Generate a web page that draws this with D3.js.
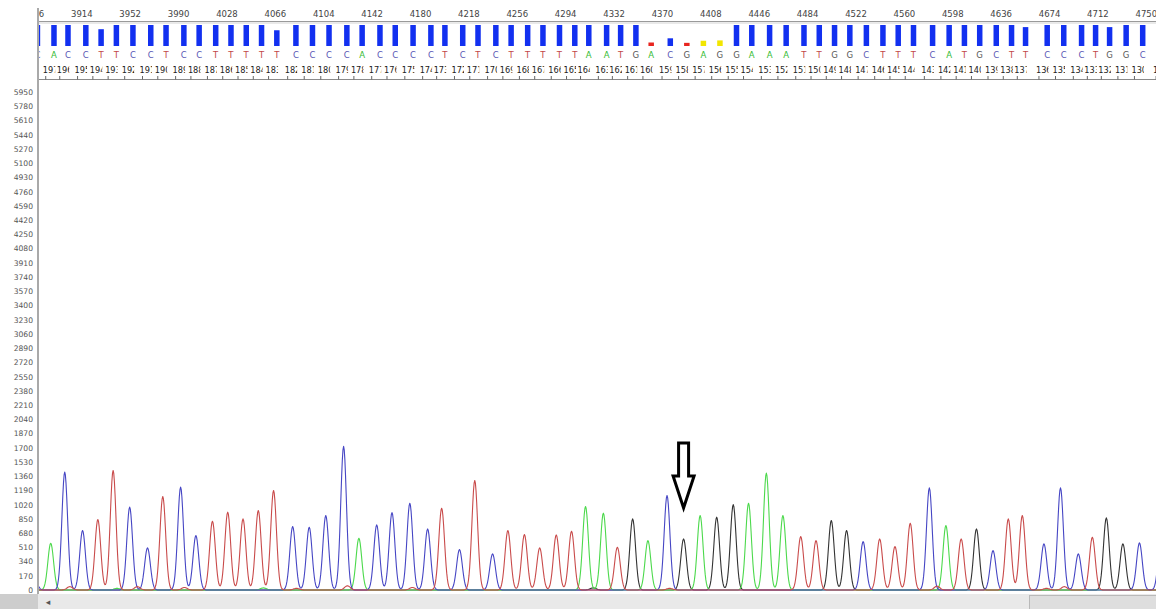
<!DOCTYPE html>
<html>
<head>
<meta charset="utf-8">
<script src="https://cdn.jsdelivr.net/npm/d3@7"></script>
<style>
  html, body { margin: 0; padding: 0; background: #fff; }
  svg { display: block; font-family: "DejaVu Sans", sans-serif; }
</style>
</head>
<body>
<svg id="trace" width="1156" height="609"></svg>
<script>
// base calls, scan position of each peak, peak height, quality, base number
var baseCalls = ["C",
  "A","C","C","T","T","C","C","T","C","C",
  "T","T","T","T","T","C","C","C","C","A",
  "C","C","C","C","T","C","T","C","T","T",
  "T","T","T","A","A","T","G","A","C","G",
  "A","G","G","A","A","A","T","T","G","G",
  "C","T","T","T","C","A","T","G","C","T",
  "T","C","C","C","T","G","G","C",
  "C"]
var peakPos = [3877,
  3890, 3901, 3915, 3927, 3939, 3952, 3966, 3978, 3992, 4004,
  4017, 4029, 4041, 4053, 4065, 4080, 4093, 4106, 4120, 4132,
  4146, 4158, 4172, 4186, 4197, 4211, 4223, 4237, 4249, 4262,
  4274, 4287, 4299, 4310, 4324, 4335, 4347, 4359, 4374, 4387,
  4400, 4413, 4426, 4438, 4452, 4465, 4479, 4491, 4503, 4515,
  4528, 4541, 4553, 4565, 4580, 4593, 4605, 4617, 4630, 4642,
  4653, 4670, 4683, 4697, 4708, 4719, 4732, 4745,
  4762]
var peakHeight = [150,
  559, 1409, 710, 842, 1428, 990, 503, 1117, 1229, 650,
  822, 930, 850, 950, 1189, 758, 750, 890, 1716, 618,
  778, 925, 1037, 730, 977, 483, 1309, 431, 710, 662,
  503, 658, 702, 998, 918, 511, 850, 590, 1129, 610,
  890, 870, 1021, 1037, 1397, 890, 638, 590, 830, 710,
  578, 610, 519, 798, 1221, 770, 610, 730, 471, 850,
  890, 551, 1221, 431, 630, 862, 551, 563,
  640]
var quality = [60,
  60, 60, 60, 48, 60, 60, 60, 60, 60, 60,
  60, 60, 60, 60, 45, 60, 60, 60, 60, 60,
  60, 60, 60, 60, 60, 60, 60, 60, 60, 60,
  60, 60, 60, 60, 60, 60, 60, 10, 22, 9,
  15, 16, 60, 60, 60, 60, 60, 60, 60, 60,
  60, 60, 60, 60, 60, 60, 60, 60, 60, 60,
  54, 60, 60, 60, 60, 54, 60, 60,
  60]
var baseNumbers = [198,
  197, 196, 195, 194, 193, 192, 191, 190, 189, 188,
  187, 186, 185, 184, 183, 182, 181, 180, 179, 178,
  177, 176, 175, 174, 173, 172, 171, 170, 169, 168,
  167, 166, 165, 164, 163, 162, 161, 160, 159, 158,
  157, 156, 155, 154, 153, 152, 151, 150, 149, 148,
  147, 146, 145, 144, 143, 142, 141, 140, 139, 138,
  137, 136, 135, 134, 133, 132, 131, 130,
  129]

// small secondary bumps near the baseline
var minorPos = [3905, 3942, 3958, 3995, 4057, 4083, 4123, 4174, 4316, 4376, 4586, 4672, 4686]
var minorBase = ["T", "A", "T", "T", "A", "T", "T", "T", "G", "T", "T", "T", "T"]
var minorHeight = [40, 20, 40, 30, 25, 20, 50, 30, 25, 20, 45, 20, 40]

var rulerTicks = [3876, 3914, 3952, 3990, 4028, 4066, 4104, 4142, 4180, 4218, 4256, 4294,
  4332, 4370, 4408, 4446, 4484, 4522, 4560, 4598, 4636, 4674, 4712, 4750]
var yTicks = [0, 170, 340, 510, 680, 850, 1020, 1190, 1360, 1530, 1700, 1870, 2040, 2210,
  2380, 2550, 2720, 2890, 3060, 3230, 3400, 3570, 3740, 3910, 4080, 4250, 4420, 4590,
  4760, 4930, 5100, 5270, 5440, 5610, 5780, 5950]

var traceColors = { A: "#4cd94c", C: "#4646c4", G: "#333333", T: "#c94b4b" }
var letterColors = { A: "#33bb33", C: "#5656b4", G: "#555555", T: "#c24848" }
var arrowBase = 40

var svg = d3.select("#trace")
var width = 1156, height = 609
var left = 38

var x = d3.scaleLinear().domain([3880, 4758]).range([left, width])
var y = d3.scaleLinear().domain([0, 5950]).range([590, 92])
var qh = d3.scaleLinear().domain([0, 60]).range([0, 21])

var defs = svg.append("defs")
defs.append("clipPath").attr("id", "clipTop")
  .append("rect").attr("x", left + 1).attr("y", 0).attr("width", width - left).attr("height", 80)
defs.append("clipPath").attr("id", "clipPlot")
  .append("rect").attr("x", left + 1).attr("y", 82).attr("width", width - left).attr("height", 511)

// ---- top panel: ruler, quality bars, base letters, base numbers
var panel = svg.append("g").attr("clip-path", "url(#clipTop)")

var ruler = panel.append("g").attr("transform", "translate(0,21)")
  .call(d3.axisTop(x).tickValues(rulerTicks).tickSize(0).tickPadding(4).tickFormat(d3.format("d")))
ruler.select(".domain").remove()
ruler.selectAll("text").attr("font-size", "8.5px").attr("fill", "#444").attr("font-family", "DejaVu Sans")

panel.append("line").attr("x1", left).attr("x2", width).attr("y1", 21.5).attr("y2", 21.5)
  .attr("stroke", "#9a9a9a")
panel.append("line").attr("x1", left).attr("x2", width).attr("y1", 23).attr("y2", 23)
  .attr("stroke", "#d4d4d4")

var idx = d3.range(baseCalls.length)

function qColor(q) {
  if (q < 12) return "#e8251f"
  if (q < 20) return "#f2e600"
  return "#1230f0"
}

panel.append("g").selectAll("rect")
  .data(idx)
  .enter()
  .append("rect")
  .attr("x", function(i) { return x(peakPos[i]) + 0.5 })
  .attr("width", 5.5)
  .attr("y", function(i) { return 46 - qh(quality[i]) })
  .attr("height", function(i) { return qh(quality[i]) })
  .attr("fill", function(i) { return qColor(quality[i]) })

panel.append("g").selectAll("text")
  .data(idx)
  .enter()
  .append("text")
  .attr("x", function(i) { return x(peakPos[i]) + 3.2 })
  .attr("y", 57.5)
  .attr("text-anchor", "middle")
  .attr("font-size", "8.5px")
  .attr("fill", function(i) { return letterColors[baseCalls[i]] })
  .text(function(i) { return baseCalls[i] })

// base numbers are cut to the width of two digits
var nums = panel.append("g").selectAll("svg")
  .data(idx)
  .enter()
  .append("svg")
  .attr("x", function(i) { return x(peakPos[i]) - 8 })
  .attr("y", 62)
  .attr("width", 12.5)
  .attr("height", 14)
nums.append("text")
  .attr("x", 0)
  .attr("y", 11)
  .attr("font-size", "8.2px")
  .attr("fill", "#222")
  .text(function(i) { return baseNumbers[i] })

panel.append("line").attr("x1", left).attr("x2", width).attr("y1", 79.5).attr("y2", 79.5)
  .attr("stroke", "#8a8a8a")
panel.append("g").selectAll("line")
  .data(idx)
  .enter()
  .append("line")
  .attr("x1", function(i) { return x(peakPos[i]) - 5 })
  .attr("x2", function(i) { return x(peakPos[i]) - 5 })
  .attr("y1", 76)
  .attr("y2", 79.5)
  .attr("stroke", "#666")

// ---- y axis
var yAxis = svg.append("g").attr("transform", "translate(" + left + ",0)")
  .call(d3.axisLeft(y).tickValues(yTicks).tickSize(0).tickPadding(5).tickFormat(d3.format("d")))
yAxis.select(".domain").remove()
yAxis.selectAll("text").attr("font-size", "7.6px").attr("fill", "#555").attr("font-family", "DejaVu Sans")

svg.append("line").attr("x1", left).attr("x2", left).attr("y1", 8).attr("y2", 594)
  .attr("stroke", "#8c8c8c").attr("stroke-width", 1.5)

// ---- traces
var sigma = 2.25
var scans = d3.range(3874, 4764, 0.5)
function channel(b) {
  var pk = []
  idx.forEach(function(i) {
    if (baseCalls[i] === b) pk.push([peakPos[i], peakHeight[i]])
  })
  minorPos.forEach(function(p, i) {
    if (minorBase[i] === b) pk.push([p, minorHeight[i]])
  })
  return scans.map(function(s) {
    var v = 0
    pk.forEach(function(p) {
      var d = s - p[0]
      v += p[1] * Math.exp(-d * d / (2 * sigma * sigma))
    })
    return [s, v]
  })
}

var line = d3.line()
  .x(function(d) { return x(d[0]) })
  .y(function(d) { return y(d[1]) })

var plot = svg.append("g").attr("clip-path", "url(#clipPlot)")
var order = ["G", "A", "C", "T"]
plot.selectAll("path")
  .data(order)
  .enter()
  .append("path")
  .attr("d", function(b) { return line(channel(b)) })
  .attr("fill", "none")
  .attr("stroke", function(b) { return traceColors[b] })
  .attr("stroke-width", 1.1)
  .attr("stroke-linejoin", "round")

// ---- arrow pointing at the questioned peak
var ax = x(peakPos[arrowBase]), ay = y(peakHeight[arrowBase]) - 31
svg.append("path")
  .attr("transform", "translate(" + ax + "," + ay + ")")
  .attr("d", "M-5,-65 L5,-65 L5,-32 L10.5,-32 L0,0 L-10.5,-32 L-5,-32 Z")
  .attr("fill", "#fff")
  .attr("stroke", "#000")
  .attr("stroke-width", 3)

// ---- bottom scroll bar
svg.append("rect").attr("x", 0).attr("y", 594).attr("width", width).attr("height", 15).attr("fill", "#e9e9e9")
svg.append("rect").attr("x", 0).attr("y", 594).attr("width", left).attr("height", 15).attr("fill", "#cdcdcd")
svg.append("text").attr("x", 48).attr("y", 605).attr("text-anchor", "middle")
  .attr("font-size", "9px").attr("fill", "#555").text("◂")
svg.append("rect").attr("x", 1029.5).attr("y", 595.5).attr("width", 127).attr("height", 14)
  .attr("fill", "#dedede").attr("stroke", "#b9b9b9")
</script>
</body>
</html>
